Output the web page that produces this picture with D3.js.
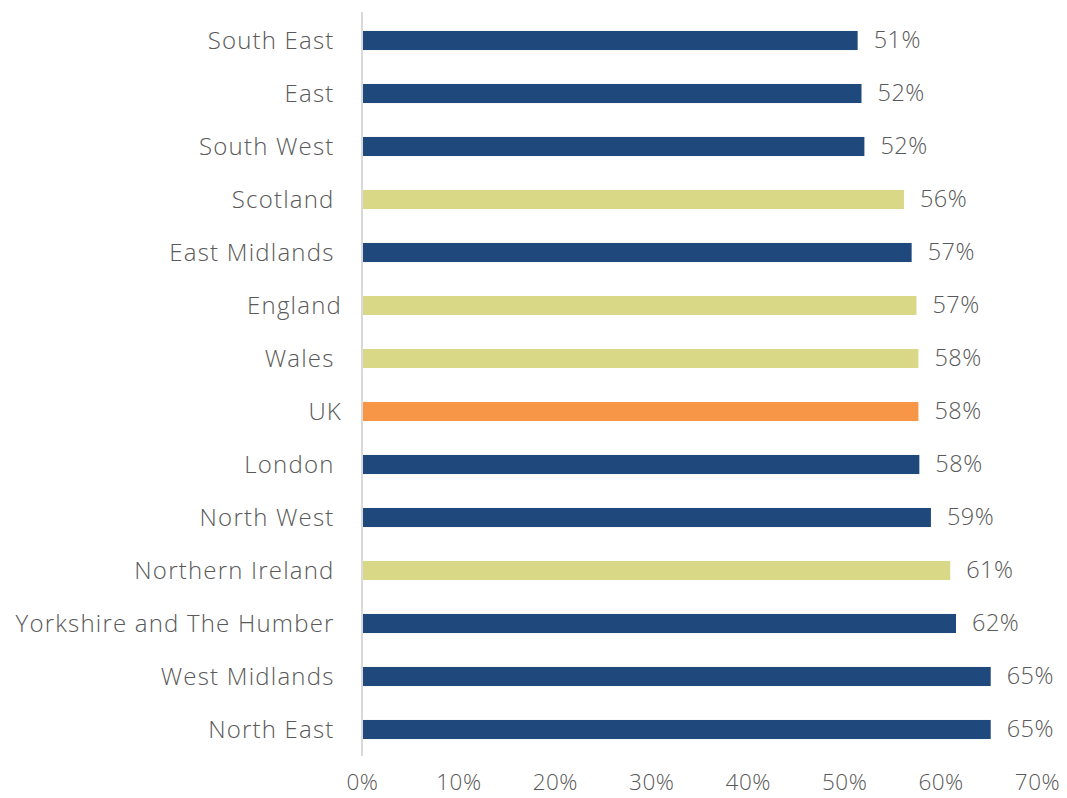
<!DOCTYPE html>
<html><head><meta charset="utf-8">
<script src="https://cdn.jsdelivr.net/npm/d3@7"></script>
<style>
html,body{margin:0;padding:0;background:#fff;}
svg text{font-family:"Open Sans","Lato",sans-serif;font-weight:300;fill:#595959;white-space:pre;}
</style></head>
<body>
<svg id="chart" width="1067" height="798"></svg>
<script>
const categories = ["South East ","East ","South West ","Scotland ","East Midlands ","England","Wales ","UK","London ","North West ","Northern Ireland ","Yorkshire and The Humber ","West Midlands ","North East "];
const values = [0.514,0.518,0.521,0.562,0.570,0.575,0.577,0.577,0.578,0.590,0.610,0.616,0.652,0.652];
const labels = ["51%","52%","52%","56%","57%","57%","58%","58%","58%","59%","61%","62%","65%","65%"];
const groups = ["region","region","region","nation","region","nation","nation","uk","region","region","nation","region","region","region"];
const tickValues = [0,0.1,0.2,0.3,0.4,0.5,0.6,0.7];
const colors = {region:"#1f497d", nation:"#d8d887", uk:"#f79646"};

const svg = d3.select("#chart");
const x = d3.scaleLinear().domain([0,0.7]).range([362,1037]);
const y = d3.scaleBand().domain(categories).range([14,756]).paddingInner(0.64).paddingOuter(0.32);

svg.selectAll("rect.bar").data(values).enter().append("rect")
  .attr("class","bar")
  .attr("x", x(0)+1)
  .attr("y",(d,i)=>y(categories[i]))
  .attr("width",d=>x(d)-x(0)-1)
  .attr("height",y.bandwidth())
  .attr("fill",(d,i)=>colors[groups[i]]);

// axis line
svg.append("line").attr("x1",x(0)).attr("x2",x(0)).attr("y1",12).attr("y2",756)
  .attr("stroke","#d9d9d9").attr("stroke-width",2);

// category labels
svg.selectAll("text.cat").data(categories).enter().append("text")
  .attr("class","cat")
  .attr("x",342)
  .attr("y",d=>y(d)+y.bandwidth()/2)
  .attr("dy","0.34em")
  .attr("text-anchor","end")
  .attr("font-size",24)
  .attr("letter-spacing",1.2)
  .text(d=>d);

// value labels
svg.selectAll("text.val").data(values).enter().append("text")
  .attr("class","val")
  .attr("x",d=>x(d)+16)
  .attr("y",(d,i)=>y(categories[i])+y.bandwidth()/2)
  .attr("dy","0.34em")
  .attr("font-size",23.5)
  .attr("letter-spacing",0.5)
  .text((d,i)=>labels[i]);

// x axis ticks
const ax = svg.append("g").attr("transform","translate(0,756)")
  .call(d3.axisBottom(x).tickValues(tickValues).tickFormat(d3.format(".0%")).tickSize(0).tickPadding(18));
ax.select(".domain").remove();
ax.selectAll("text").attr("font-size",22.5).attr("letter-spacing",0.5)
  .style("font-family","'Open Sans',sans-serif").style("font-weight",300).attr("fill","#595959");
</script>
</body></html>
